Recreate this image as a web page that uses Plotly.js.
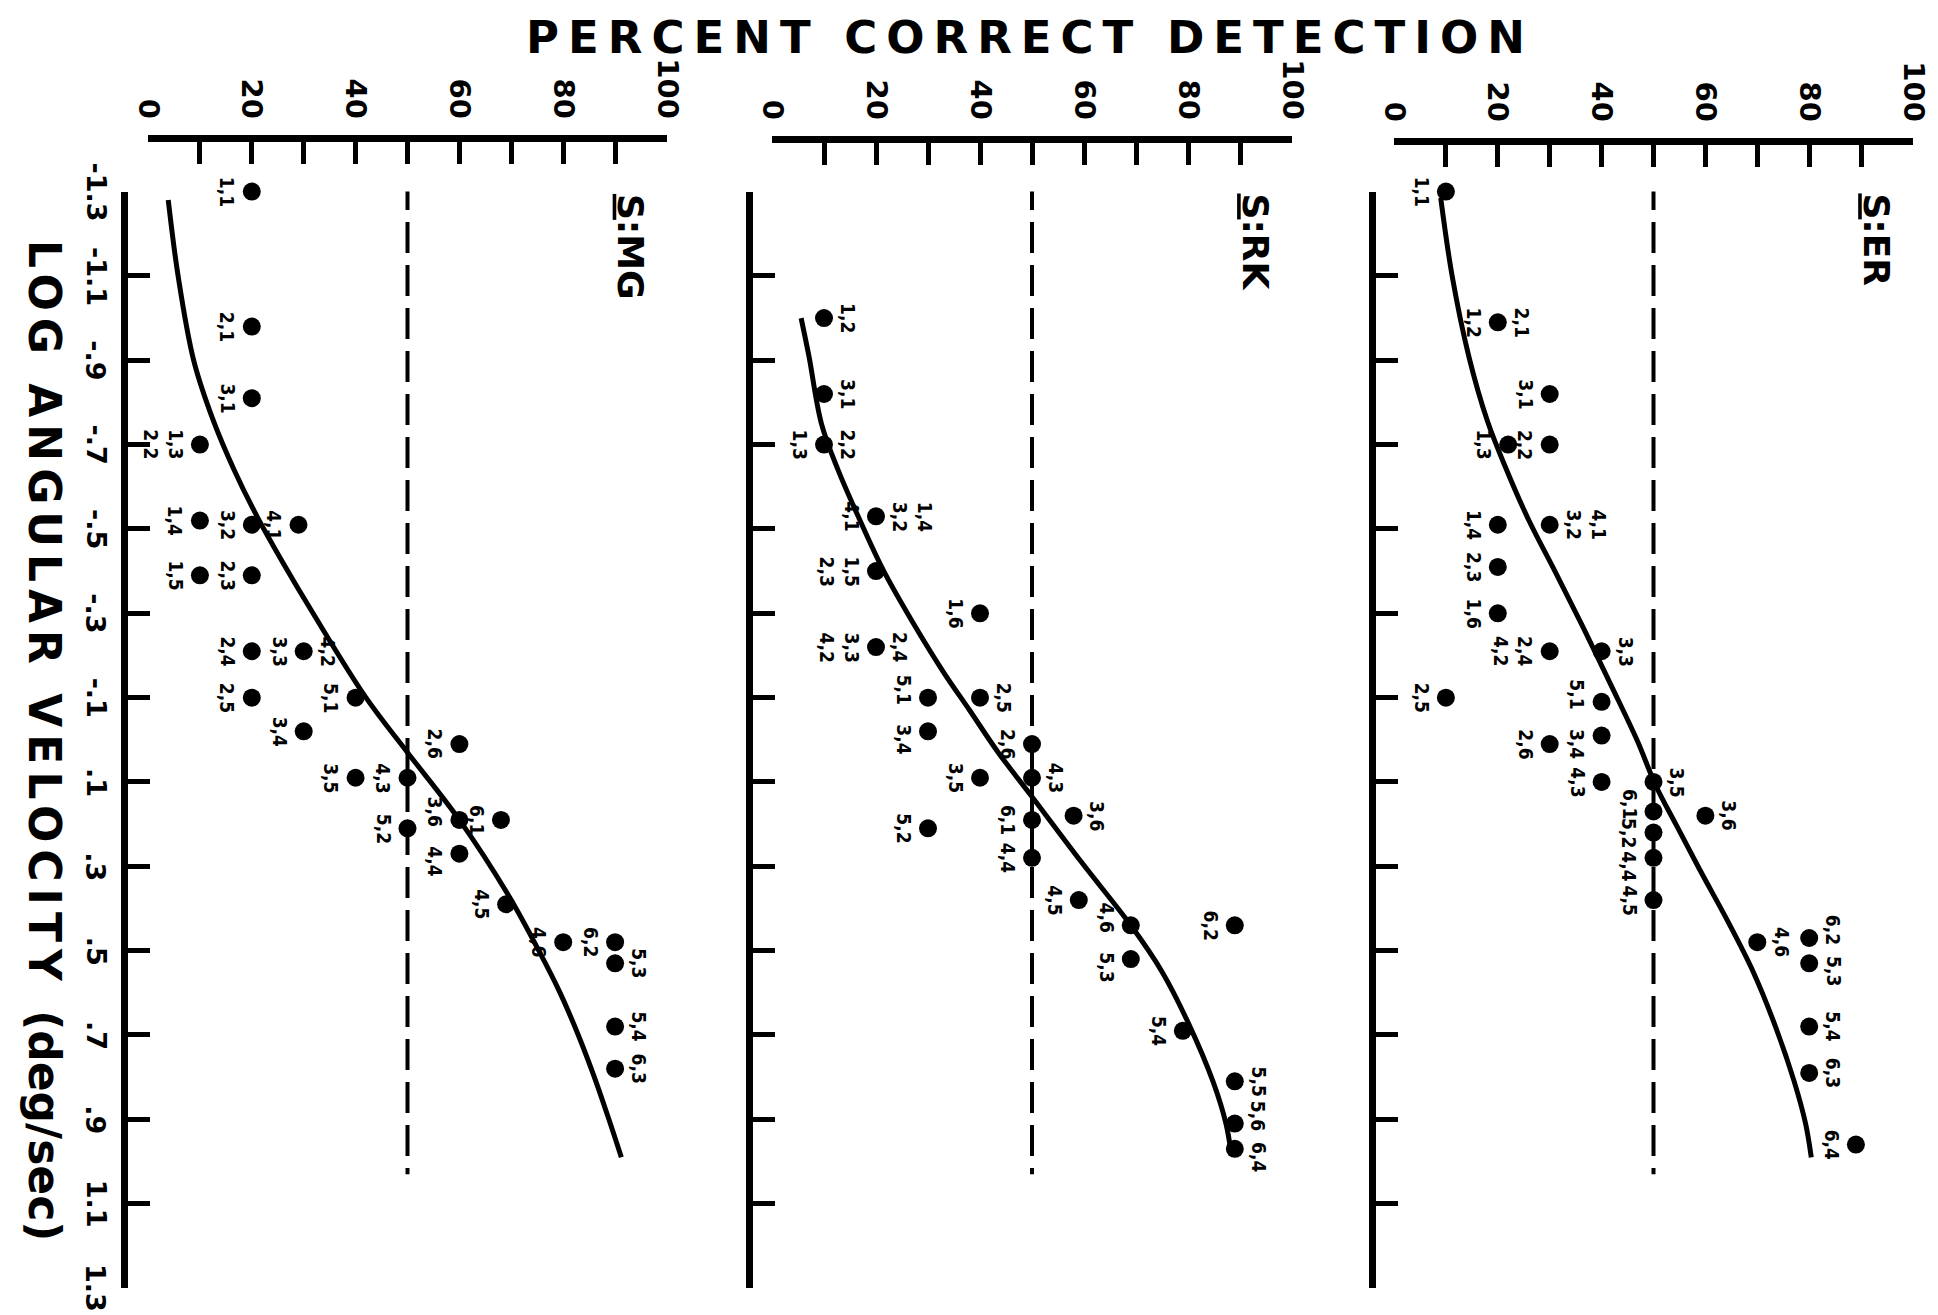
<!DOCTYPE html>
<html>
<head>
<meta charset="utf-8">
<script src="https://cdn.plot.ly/plotly-3.0.1.min.js"></script>
<style>
  html, body { margin: 0; padding: 0; background: #ffffff; }
  #chart { width: 1938px; height: 1315px; }
</style>
</head>
<body>
<div id="chart"></div>
<script>
// Percent correct detection against log angular velocity, one panel per observer.

// ---- axes ----
const pctTickVals = [0, 20, 40, 60, 80, 100];
const pctTickText = ["0", "20", "40", "60", "80", "100"];
const pctMinorVals = [0, 10, 20, 30, 40, 50, 60, 70, 80, 90, 100];
const velTickVals = [-1.3, -1.1, -0.9, -0.7, -0.5, -0.3, -0.1, 0.1, 0.3, 0.5, 0.7, 0.9, 1.1, 1.3];
const velTickText = ["-1.3", "-1.1", "-.9", "-.7", "-.5", "-.3", "-.1", ".1", ".3", ".5", ".7", ".9", "1.1", "1.3"];
const threshold = [50, 50];
const thresholdSpan = [-1.33, 1.03];

// ---- observer MG ----
const mgPct = [20, 20, 20, 10, 10, 20, 29, 10, 20, 20, 30, 20, 40, 30, 60, 40, 50, 60, 68, 50, 60, 69, 80, 90, 90, 90, 90];
const mgVel = [-1.30, -0.98, -0.81, -0.70, -0.52, -0.51, -0.51, -0.39, -0.39, -0.21, -0.21, -0.10, -0.10, -0.02, 0.01, 0.09, 0.09, 0.19, 0.19, 0.21, 0.27, 0.39, 0.48, 0.48, 0.53, 0.68, 0.78];
const mgLabelL = ["1,1", "2,1", "3,1", "1,3<br>2,2", "1,4", "3,2", "4,1", "1,5", "2,3", "2,4", "3,3", "2,5", "5,1", "3,4", "2,6", "3,5", "4,3", "3,6", "6,1", "5,2", "4,4", "4,5", "4,6", "6,2", "", "", ""];
const mgLabelR = ["", "", "", "", "", "", "", "", "", "", "4,2", "", "", "", "", "", "", "", "", "", "", "", "", "", "5,3", "5,4", "6,3"];
const mgCurvePct = [3.9, 5.8, 8.8, 12.5, 16.6, 21, 26, 31.8, 42, 50, 60, 69.5, 75.3, 79.4, 82.9, 86.0, 88.8, 91.2];
const mgCurveVel = [-1.28, -1.10, -0.90, -0.76, -0.64, -0.53, -0.42, -0.30, -0.10, 0.03, 0.19, 0.37, 0.50, 0.60, 0.70, 0.80, 0.90, 0.99];

// ---- observer RK ----
const rkPct = [10, 10, 10, 20, 20, 40, 20, 40, 30, 30, 50, 40, 50, 58, 50, 30, 50, 59, 69, 89, 69, 79, 89, 89, 89];
const rkVel = [-1.00, -0.82, -0.70, -0.53, -0.40, -0.30, -0.22, -0.10, -0.10, -0.02, 0.01, 0.09, 0.09, 0.18, 0.19, 0.21, 0.28, 0.38, 0.44, 0.44, 0.52, 0.69, 0.81, 0.91, 0.97];
const rkLabelL = ["", "", "1,3", "4,1", "1,5<br>2,3", "1,6", "3,3<br>4,2", "", "5,1", "3,4", "2,6", "3,5", "", "", "6,1", "5,2", "4,4", "4,5", "4,6", "6,2", "5,3", "5,4", "", "", ""];
const rkLabelR = ["1,2", "3,1", "2,2", "1,4<br>3,2", "", "", "2,4", "2,5", "", "", "", "", "4,3", "3,6", "", "", "", "", "", "", "", "", "5,5", "5,6", "6,4"];
const rkCurvePct = [5.6, 7.1, 9.5, 12.7, 17.3, 21.5, 27, 33, 38, 43.5, 50, 59.5, 69, 75, 80, 84.8, 87.3, 88.3];
const rkCurveVel = [-1.00, -0.91, -0.75, -0.64, -0.51, -0.40, -0.28, -0.16, -0.07, 0.03, 0.135, 0.29, 0.44, 0.55, 0.67, 0.81, 0.91, 0.98];

// ---- observer ER ----
const erPct = [10, 20, 30, 22, 30, 20, 30, 20, 20, 30, 40, 10, 40, 40, 30, 40, 50, 50, 60, 50, 50, 50, 70, 80, 80, 80, 80, 89];
const erVel = [-1.30, -0.99, -0.82, -0.70, -0.70, -0.51, -0.51, -0.41, -0.30, -0.21, -0.21, -0.10, -0.09, -0.01, 0.01, 0.10, 0.10, 0.17, 0.18, 0.22, 0.28, 0.38, 0.48, 0.47, 0.53, 0.68, 0.79, 0.96];
const erLabelL = ["1,1", "1,2", "3,1", "1,3", "2,2", "1,4", "", "2,3", "1,6", "2,4<br>4,2", "", "2,5", "5,1", "3,4", "2,6", "4,3", "", "6,1", "", "5,2", "4,4", "4,5", "", "", "", "", "", "6,4"];
const erLabelR = ["", "2,1", "", "", "", "", "4,1<br>3,2", "", "", "", "3,3", "", "", "", "", "", "3,5", "", "3,6", "", "", "", "4,6", "6,2", "5,3", "5,4", "6,3", ""];
const erCurvePct = [9, 11.2, 14.4, 18, 21.7, 26, 31, 36.3, 42, 46.8, 50.5, 54.3, 59, 64.3, 69.2, 73.5, 77.1, 79.3, 80.4];
const erCurveVel = [-1.285, -1.10, -0.91, -0.756, -0.64, -0.52, -0.40, -0.27, -0.125, 0.0, 0.11, 0.20, 0.31, 0.43, 0.55, 0.68, 0.81, 0.91, 0.99];

const observers = [
  { name: "MG", pct: mgPct, vel: mgVel, lblL: mgLabelL, lblR: mgLabelR, cPct: mgCurvePct, cVel: mgCurveVel },
  { name: "RK", pct: rkPct, vel: rkVel, lblL: rkLabelL, lblR: rkLabelR, cPct: rkCurvePct, cVel: rkCurveVel },
  { name: "ER", pct: erPct, vel: erVel, lblL: erLabelL, lblR: erLabelR, cPct: erCurvePct, cVel: erCurveVel }
];

// ---- page geometry (pixels) ----
const W = 1938, H = 1315;
const fx = px => px / W;
const fy = px => 1 - px / H;
const velTopPx = 191.6, velBottomPx = 1288;
const velLabelPx = 96;
const panelGeom = [
  { zero: 148,  full: 667,  velLine: 124,  pctLine: 138 },
  { zero: 772,  full: 1292, velLine: 749,  pctLine: 139 },
  { zero: 1394, full: 1913, velLine: 1372, pctLine: 141 }
];

const FONT = "DejaVu Sans, Verdana, sans-serif";
const LABEL_FONT = "DejaVu Sans Condensed, DejaVu Sans, sans-serif";

const traces = [];
const annotations = [];
const layout = {
  width: W, height: H,
  margin: { l: 0, r: 0, t: 0, b: 0 },
  paper_bgcolor: "#ffffff",
  plot_bgcolor: "rgba(0,0,0,0)",
  showlegend: false,
  font: { family: FONT, color: "#000000" },
  title: {
    text: '<span style="letter-spacing:9px">PERCENT CORRECT DETECTION</span>',
    font: { size: 45, family: FONT, color: "#000000", weight: "bold" },
    xref: "paper", yref: "paper",
    x: fx(1030), y: fy(37), xanchor: "center", yanchor: "middle"
  }
};

// nudge labels apart when two on the same side of one column sit close together
function labelShift(pcts, vels, labels, k) {
  let shift = 0;
  pcts.forEach((p, j) => {
    if (j === k || !labels[j]) return;
    const dv = vels[k] - vels[j];
    if (Math.abs(p - pcts[k]) < 3 && Math.abs(dv) > 0 && Math.abs(dv) < 0.085) {
      shift += dv > 0 ? -8 : 8;
    }
  });
  return shift;
}

observers.forEach((ob, i) => {
  const g = panelGeom[i];
  const s = i === 0 ? "" : String(i + 1);
  const xa = "x" + s, ya = "y" + s;

  layout["xaxis" + s] = {
    domain: [fx(g.zero), fx(g.full)],
    range: [0, 100],
    side: "top",
    anchor: "free",
    position: fy(g.pctLine),
    showline: true, linewidth: 7, linecolor: "#000000",
    showgrid: false, zeroline: false,
    ticks: "inside", ticklen: 22, tickwidth: 5, tickcolor: "#000000",
    tickmode: "array", tickvals: pctTickVals, ticktext: pctTickText,
    tickangle: 90,
    ticklabelstandoff: 6,
    tickfont: { size: 29, family: FONT, color: "#000000", weight: "bold" },
    minor: { tickmode: "array", tickvals: pctMinorVals, ticks: "inside", ticklen: 22, tickwidth: 5, tickcolor: "#000000", showgrid: false },
    fixedrange: true
  };
  layout["yaxis" + s] = {
    domain: [fy(velBottomPx), fy(velTopPx)],
    range: [1.3, -1.3],
    side: "left",
    anchor: "free",
    position: fx(g.velLine),
    showline: true, linewidth: 7, linecolor: "#000000",
    showgrid: false, zeroline: false,
    ticks: "inside", ticklen: 22, tickwidth: 5, tickcolor: "#000000",
    tickmode: "array", tickvals: velTickVals,
    showticklabels: false,
    fixedrange: true
  };

  // 50 % reference line
  traces.push({
    x: threshold, y: thresholdSpan, xaxis: xa, yaxis: ya,
    mode: "lines", hoverinfo: "skip",
    line: { color: "#000000", width: 4, dash: "31px,12px" }
  });
  // fitted curve
  traces.push({
    x: ob.cPct, y: ob.cVel, xaxis: xa, yaxis: ya,
    mode: "lines", hoverinfo: "skip",
    line: { color: "#000000", width: 5, shape: "spline", smoothing: 1 }
  });
  // observed points
  traces.push({
    x: ob.pct, y: ob.vel, xaxis: xa, yaxis: ya,
    mode: "markers", cliponaxis: false,
    marker: { size: 18, color: "#000000" }
  });

  // condition labels beside each point
  [[ob.lblL, -1], [ob.lblR, 1]].forEach(([labels, dir]) => {
    ob.pct.forEach((p, k) => {
      const txt = labels[k];
      if (!txt) return;
      annotations.push({
        xref: xa, yref: ya, x: p, y: ob.vel[k],
        text: txt, showarrow: false, textangle: 90,
        xanchor: dir < 0 ? "right" : "left", yanchor: "middle",
        xshift: dir * 11,
        yshift: labelShift(ob.pct, ob.vel, labels, k),
        font: { size: 19, family: LABEL_FONT, color: "#000000", weight: "bold" }
      });
    });
  });

  // observer tag
  annotations.push({
    xref: xa, yref: ya, x: 93, y: -1.3,
    text: "<u>S</u>:" + ob.name, showarrow: false, textangle: 90,
    xanchor: "center", yanchor: "top",
    font: { size: 36, family: FONT, color: "#000000", weight: "bold" }
  });
});

// velocity tick labels, set close to the left axis line
velTickVals.forEach((v, k) => {
  annotations.push({
    xref: "paper", yref: "y", x: fx(velLabelPx), y: v,
    text: velTickText[k], showarrow: false, textangle: 90,
    xanchor: "center", yanchor: "middle",
    font: { size: 27, family: FONT, color: "#000000", weight: "bold" }
  });
});

// velocity axis title
annotations.push({
  xref: "paper", yref: "paper", x: fx(45), y: fy(740),
  text: '<span style="letter-spacing:7px">LOG ANGULAR VELOCITY </span>(deg/sec)',
  showarrow: false, textangle: 90, xanchor: "center", yanchor: "middle",
  font: { size: 44, family: FONT, color: "#000000", weight: "bold" }
});

layout.annotations = annotations;

Plotly.newPlot("chart", traces, layout, { staticPlot: true, displayModeBar: false });
</script>
</body>
</html>
